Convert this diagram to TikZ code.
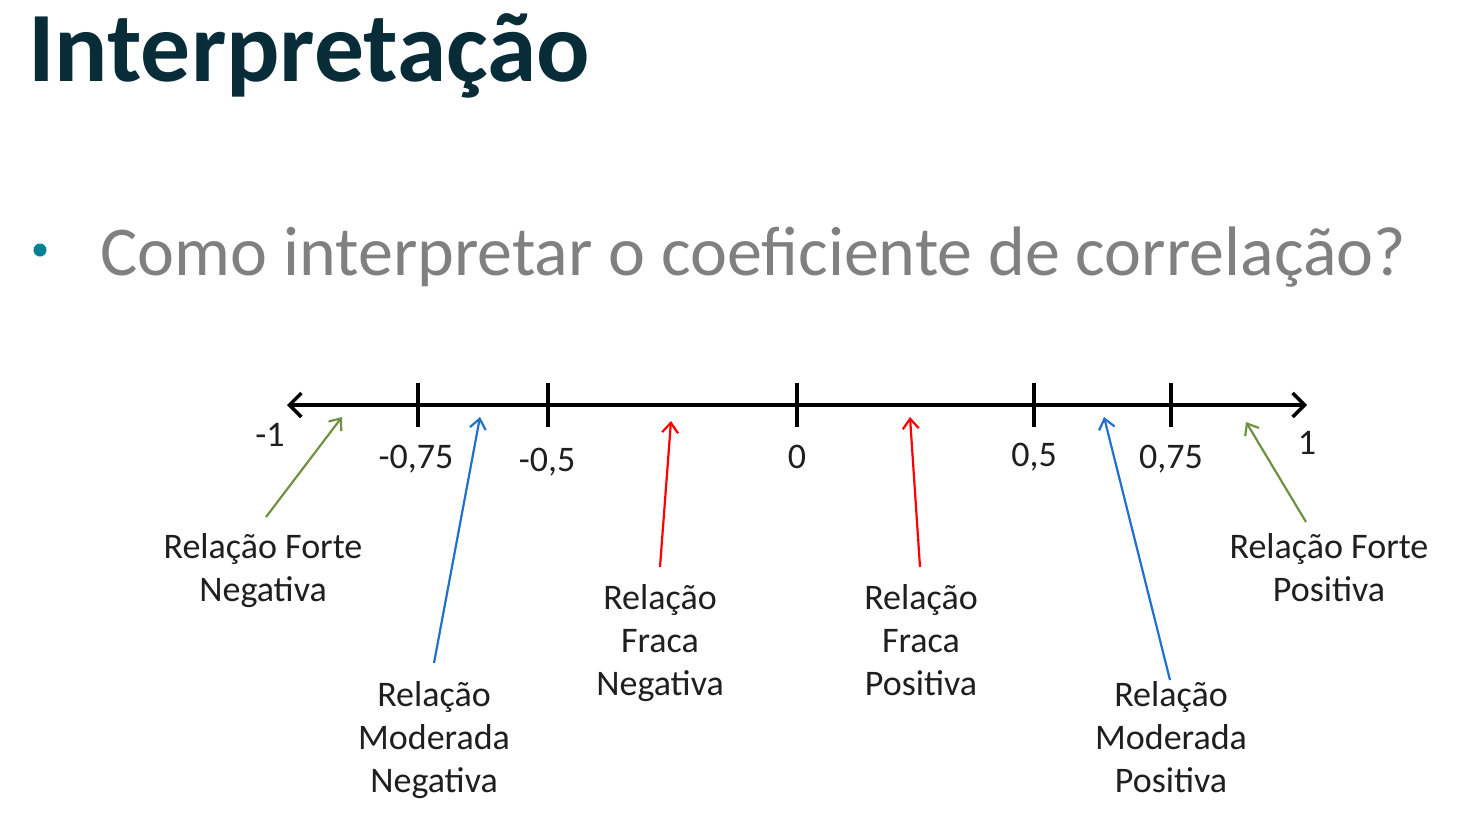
\documentclass[tikz,border=0pt]{standalone}
\usepackage{fontspec}
\setmainfont{Carlito}
\usetikzlibrary{arrows.meta}
\definecolor{titlec}{RGB}{8,45,56}
\definecolor{bulletc}{RGB}{0,128,150}
\definecolor{subc}{RGB}{128,128,128}
\definecolor{strongc}{RGB}{112,146,64}
\definecolor{modc}{RGB}{32,112,204}
\definecolor{weakc}{RGB}{255,0,0}
\tikzset{
  lbl/.style={anchor=base, align=center, inner sep=0pt, font=\fontsize{18}{21.5}\selectfont, text=black!88},
  tick/.style={anchor=base, inner sep=0pt, font=\fontsize{18}{21.5}\selectfont, text=black!88},
  tickline/.style={line width=1.6pt, black},
  axisline/.style={line width=1.7pt, black, {Straight Barb[length=6pt,width=12pt,line width=1.7pt]}-{Straight Barb[length=6pt,width=12pt,line width=1.7pt]}},
  ptr/.style={line width=1.1pt, -{Straight Barb[length=5pt,width=8pt]}}
}
\begin{document}
\begin{tikzpicture}[x=0.5pt,y=-0.5pt]
\useasboundingbox (0,0) rectangle (1462,820);
\fill[white] (0,0) rectangle (1462,820);
% title
\node[anchor=base west, inner sep=0pt, text=titlec, font=\fontsize{49.8}{58}\selectfont\bfseries] (title) at (28,81) {Interpretação};
% bullet
\fill[bulletc] (40,250) circle (6.5);
\node[anchor=base west, inner sep=0pt, text=subc, font=\fontsize{35}{42}\selectfont] (sub) at (100,275) {Como interpretar o coeficiente de correlação?};
% axis
\coordinate (aL) at (287,405);
\coordinate (aR) at (1307,405);
\draw[axisline] (aL) -- (aR);
\foreach \x/\n in {418/t1,548/t2,797/t3,1034/t4,1171/t5}{
  \coordinate (\n a) at (\x,383);
  \coordinate (\n b) at (\x,427);
  \draw[tickline] (\n a) -- (\n b);
}
% tick labels
\node[tick] (lm1) at (270,446) {-1};
\node[tick] (lm75) at (416,468) {-0,75};
\node[tick] (lm5) at (547,471) {-0,5};
\node[tick] (l0) at (797,468) {0};
\node[tick] (lp5) at (1034,466) {0,5};
\node[tick] (lp75) at (1171,468) {0,75};
\node[tick] (lp1) at (1307,454) {1};
% labels (anchored at the baseline of the last line)
\node[lbl] (fn) at (263,601) {Relação Forte\\Negativa};
\node[lbl] (mn) at (434,792) {Relação\\Moderada\\Negativa};
\node[lbl] (wn) at (660,695) {Relação\\Fraca\\Negativa};
\node[lbl] (wp) at (921,695) {Relação\\Fraca\\Positiva};
\node[lbl] (mp) at (1171,792) {Relação\\Moderada\\Positiva};
\node[lbl] (fp) at (1329,601) {Relação Forte\\Positiva};
% arrow ends
\coordinate (fnS) at (266,517); \coordinate (fnE) at (342,417);
\coordinate (mnS) at (434,663); \coordinate (mnE) at (480,417);
\coordinate (wnS) at (660,567); \coordinate (wnE) at (671,421);
\coordinate (wpS) at (920,567); \coordinate (wpE) at (910,417);
\coordinate (mpS) at (1170,680); \coordinate (mpE) at (1104,417);
\coordinate (fpS) at (1306,522); \coordinate (fpE) at (1246,422);
\draw[ptr, strongc] (fnS) -- (fnE);
\draw[ptr, modc] (mnS) -- (mnE);
\draw[ptr, weakc] (wnS) -- (wnE);
\draw[ptr, weakc] (wpS) -- (wpE);
\draw[ptr, modc] (mpS) -- (mpE);
\draw[ptr, strongc] (fpS) -- (fpE);
\end{tikzpicture}
\end{document}
